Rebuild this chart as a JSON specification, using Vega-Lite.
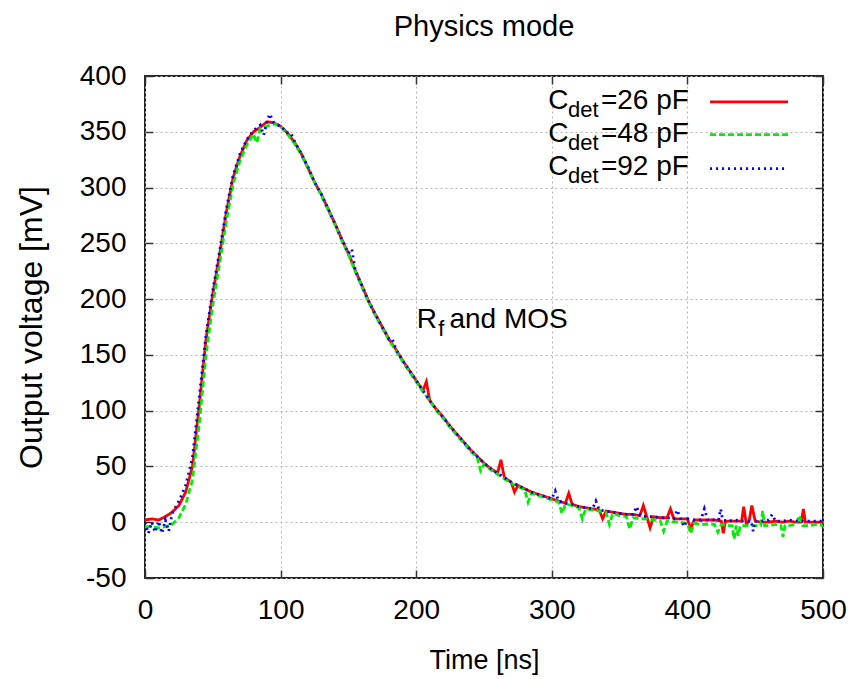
{
  "$schema": "https://vega.github.io/schema/vega-lite/v6.json",
  "width": 678,
  "height": 502,
  "autosize": {"type": "none"},
  "padding": {"left": 145, "top": 76, "right": 31, "bottom": 101},
  "background": "white",
  "config": {
    "font": "Liberation Sans",
    "view": {"stroke": "#222222", "strokeWidth": 2},
    "text": {"color": "black"},
    "axis": {
      "domain": false,
      "ticks": true,
      "tickSize": -8,
      "tickColor": "#333333",
      "tickWidth": 1.5,
      "labelFont": "Liberation Sans",
      "labelFontSize": 28,
      "labelColor": "black",
      "titleFont": "Liberation Sans",
      "titleFontWeight": "normal",
      "titleColor": "black",
      "gridColor": "#b4b4b4",
      "gridDash": [2, 3],
      "gridWidth": 1,
      "gridOpacity": 1
    }
  },
  "title": {"text": "Physics mode", "fontSize": 29, "font": "Liberation Sans", "fontWeight": "normal", "color": "black", "offset": 20},
  "data": {"values": [
    {"t":0,"v":2,"s":"26 pF"},{"t":5,"v":3,"s":"26 pF"},{"t":10,"v":2,"s":"26 pF"},{"t":15,"v":5,"s":"26 pF"},{"t":20,"v":9,"s":"26 pF"},{"t":25,"v":15,"s":"26 pF"},{"t":30,"v":27,"s":"26 pF"},{"t":35,"v":50,"s":"26 pF"},{"t":40,"v":104,"s":"26 pF"},{"t":45,"v":164,"s":"26 pF"},
    {"t":50,"v":205,"s":"26 pF"},{"t":55,"v":240,"s":"26 pF"},{"t":60,"v":278,"s":"26 pF"},{"t":65,"v":309,"s":"26 pF"},{"t":70,"v":328,"s":"26 pF"},{"t":75,"v":342,"s":"26 pF"},{"t":80,"v":350,"s":"26 pF"},{"t":85,"v":354,"s":"26 pF"},{"t":90,"v":359,"s":"26 pF"},{"t":95,"v":358,"s":"26 pF"},
    {"t":100,"v":355,"s":"26 pF"},{"t":105,"v":349,"s":"26 pF"},{"t":110,"v":341,"s":"26 pF"},{"t":115,"v":331,"s":"26 pF"},{"t":120,"v":318,"s":"26 pF"},{"t":125,"v":305,"s":"26 pF"},{"t":130,"v":294,"s":"26 pF"},{"t":135,"v":281,"s":"26 pF"},{"t":140,"v":268,"s":"26 pF"},{"t":145,"v":254,"s":"26 pF"},
    {"t":150,"v":241,"s":"26 pF"},{"t":155,"v":226,"s":"26 pF"},{"t":160,"v":212,"s":"26 pF"},{"t":165,"v":198,"s":"26 pF"},{"t":170,"v":186,"s":"26 pF"},{"t":175,"v":175,"s":"26 pF"},{"t":180,"v":164,"s":"26 pF"},{"t":185,"v":155,"s":"26 pF"},{"t":190,"v":145,"s":"26 pF"},{"t":195,"v":136,"s":"26 pF"},
    {"t":200,"v":127,"s":"26 pF"},{"t":205,"v":118,"s":"26 pF"},{"t":207.5,"v":126,"s":"26 pF"},{"t":210,"v":109,"s":"26 pF"},{"t":215,"v":101,"s":"26 pF"},{"t":220,"v":94,"s":"26 pF"},{"t":225,"v":86,"s":"26 pF"},{"t":230,"v":79,"s":"26 pF"},{"t":235,"v":72,"s":"26 pF"},{"t":240,"v":65,"s":"26 pF"},{"t":245,"v":59,"s":"26 pF"},
    {"t":250,"v":53,"s":"26 pF"},{"t":255,"v":48,"s":"26 pF"},{"t":260,"v":44,"s":"26 pF"},{"t":262.5,"v":56,"s":"26 pF"},{"t":265,"v":40,"s":"26 pF"},{"t":270,"v":36,"s":"26 pF"},{"t":272.5,"v":27,"s":"26 pF"},{"t":275,"v":33,"s":"26 pF"},{"t":280,"v":30,"s":"26 pF"},{"t":285,"v":27,"s":"26 pF"},{"t":290,"v":25,"s":"26 pF"},{"t":295,"v":23,"s":"26 pF"},
    {"t":300,"v":21,"s":"26 pF"},{"t":305,"v":19,"s":"26 pF"},{"t":310,"v":17,"s":"26 pF"},{"t":312.5,"v":26,"s":"26 pF"},{"t":315,"v":16,"s":"26 pF"},{"t":320,"v":14,"s":"26 pF"},{"t":325,"v":13,"s":"26 pF"},{"t":330,"v":12,"s":"26 pF"},{"t":335,"v":11,"s":"26 pF"},{"t":337.5,"v":3,"s":"26 pF"},{"t":340,"v":10,"s":"26 pF"},{"t":345,"v":9,"s":"26 pF"},
    {"t":350,"v":8,"s":"26 pF"},{"t":355,"v":7,"s":"26 pF"},{"t":360,"v":7,"s":"26 pF"},{"t":365,"v":6,"s":"26 pF"},{"t":367.5,"v":15,"s":"26 pF"},{"t":370,"v":5,"s":"26 pF"},{"t":372.5,"v":-5,"s":"26 pF"},{"t":375,"v":5,"s":"26 pF"},{"t":380,"v":4,"s":"26 pF"},{"t":385,"v":4,"s":"26 pF"},{"t":387.5,"v":12,"s":"26 pF"},{"t":390,"v":3,"s":"26 pF"},{"t":395,"v":3,"s":"26 pF"},
    {"t":400,"v":3,"s":"26 pF"},{"t":402.5,"v":-6,"s":"26 pF"},{"t":405,"v":2,"s":"26 pF"},{"t":410,"v":2,"s":"26 pF"},{"t":415,"v":2,"s":"26 pF"},{"t":420,"v":2,"s":"26 pF"},{"t":425,"v":1,"s":"26 pF"},{"t":426.5,"v":-10,"s":"26 pF"},{"t":428,"v":1,"s":"26 pF"},{"t":435,"v":1,"s":"26 pF"},{"t":440,"v":1,"s":"26 pF"},{"t":441.5,"v":14,"s":"26 pF"},{"t":443.5,"v":-2,"s":"26 pF"},{"t":445.5,"v":1,"s":"26 pF"},{"t":447.5,"v":15,"s":"26 pF"},
    {"t":450,"v":1,"s":"26 pF"},{"t":455,"v":0,"s":"26 pF"},{"t":460,"v":0,"s":"26 pF"},{"t":465,"v":1,"s":"26 pF"},{"t":470,"v":0,"s":"26 pF"},{"t":475,"v":1,"s":"26 pF"},{"t":480,"v":0,"s":"26 pF"},{"t":484,"v":0,"s":"26 pF"},{"t":485.5,"v":12,"s":"26 pF"},{"t":487,"v":0,"s":"26 pF"},{"t":490,"v":0,"s":"26 pF"},{"t":495,"v":0,"s":"26 pF"},{"t":500,"v":0,"s":"26 pF"},

    {"t":0,"v":-4,"s":"48 pF"},{"t":5,"v":-4,"s":"48 pF"},{"t":10,"v":-5,"s":"48 pF"},{"t":15,"v":-4,"s":"48 pF"},{"t":20,"v":-2,"s":"48 pF"},{"t":25,"v":4,"s":"48 pF"},{"t":30,"v":16,"s":"48 pF"},{"t":35,"v":38,"s":"48 pF"},{"t":40,"v":88,"s":"48 pF"},{"t":45,"v":150,"s":"48 pF"},
    {"t":50,"v":195,"s":"48 pF"},{"t":55,"v":232,"s":"48 pF"},{"t":60,"v":270,"s":"48 pF"},{"t":65,"v":303,"s":"48 pF"},{"t":70,"v":324,"s":"48 pF"},{"t":75,"v":338,"s":"48 pF"},{"t":80,"v":348,"s":"48 pF"},{"t":82.5,"v":340,"s":"48 pF"},{"t":85,"v":353,"s":"48 pF"},{"t":90,"v":355,"s":"48 pF"},{"t":95,"v":357,"s":"48 pF"},
    {"t":100,"v":355,"s":"48 pF"},{"t":105,"v":348,"s":"48 pF"},{"t":110,"v":340,"s":"48 pF"},{"t":115,"v":330,"s":"48 pF"},{"t":120,"v":318,"s":"48 pF"},{"t":125,"v":305,"s":"48 pF"},{"t":130,"v":293,"s":"48 pF"},{"t":135,"v":280,"s":"48 pF"},{"t":140,"v":267,"s":"48 pF"},{"t":145,"v":253,"s":"48 pF"},
    {"t":150,"v":240,"s":"48 pF"},{"t":155,"v":225,"s":"48 pF"},{"t":160,"v":211,"s":"48 pF"},{"t":165,"v":197,"s":"48 pF"},{"t":170,"v":185,"s":"48 pF"},{"t":175,"v":174,"s":"48 pF"},{"t":180,"v":163,"s":"48 pF"},{"t":185,"v":154,"s":"48 pF"},{"t":190,"v":144,"s":"48 pF"},{"t":195,"v":135,"s":"48 pF"},
    {"t":200,"v":126,"s":"48 pF"},{"t":205,"v":117,"s":"48 pF"},{"t":210,"v":109,"s":"48 pF"},{"t":215,"v":100,"s":"48 pF"},{"t":220,"v":93,"s":"48 pF"},{"t":225,"v":85,"s":"48 pF"},{"t":230,"v":78,"s":"48 pF"},{"t":235,"v":71,"s":"48 pF"},{"t":240,"v":64,"s":"48 pF"},{"t":245,"v":58,"s":"48 pF"},{"t":247.5,"v":46,"s":"48 pF"},
    {"t":250,"v":52,"s":"48 pF"},{"t":255,"v":47,"s":"48 pF"},{"t":260,"v":43,"s":"48 pF"},{"t":265,"v":39,"s":"48 pF"},{"t":270,"v":35,"s":"48 pF"},{"t":275,"v":32,"s":"48 pF"},{"t":280,"v":29,"s":"48 pF"},{"t":282.5,"v":18,"s":"48 pF"},{"t":285,"v":26,"s":"48 pF"},{"t":290,"v":24,"s":"48 pF"},{"t":295,"v":22,"s":"48 pF"},
    {"t":300,"v":20,"s":"48 pF"},{"t":305,"v":18,"s":"48 pF"},{"t":307.5,"v":8,"s":"48 pF"},{"t":310,"v":16,"s":"48 pF"},{"t":315,"v":15,"s":"48 pF"},{"t":320,"v":13,"s":"48 pF"},{"t":322.5,"v":3,"s":"48 pF"},{"t":325,"v":12,"s":"48 pF"},{"t":330,"v":11,"s":"48 pF"},{"t":335,"v":10,"s":"48 pF"},{"t":340,"v":9,"s":"48 pF"},{"t":342.5,"v":-2,"s":"48 pF"},{"t":345,"v":8,"s":"48 pF"},
    {"t":350,"v":6,"s":"48 pF"},{"t":355,"v":5,"s":"48 pF"},{"t":357.5,"v":-6,"s":"48 pF"},{"t":360,"v":4,"s":"48 pF"},{"t":365,"v":3,"s":"48 pF"},{"t":370,"v":3,"s":"48 pF"},{"t":375,"v":2,"s":"48 pF"},{"t":380,"v":1,"s":"48 pF"},{"t":382.5,"v":-8,"s":"48 pF"},{"t":385,"v":1,"s":"48 pF"},{"t":390,"v":0,"s":"48 pF"},{"t":395,"v":0,"s":"48 pF"},
    {"t":400,"v":-1,"s":"48 pF"},{"t":402.5,"v":-10,"s":"48 pF"},{"t":405,"v":-1,"s":"48 pF"},{"t":410,"v":-2,"s":"48 pF"},{"t":415,"v":-2,"s":"48 pF"},{"t":420,"v":-2,"s":"48 pF"},{"t":422.5,"v":-9,"s":"48 pF"},{"t":425,"v":-2,"s":"48 pF"},{"t":430,"v":-3,"s":"48 pF"},{"t":433,"v":-3,"s":"48 pF"},{"t":434.5,"v":-15,"s":"48 pF"},{"t":436,"v":-3,"s":"48 pF"},{"t":437.5,"v":-12,"s":"48 pF"},{"t":439,"v":-3,"s":"48 pF"},{"t":445,"v":-3,"s":"48 pF"},
    {"t":450,"v":-3,"s":"48 pF"},{"t":454,"v":-3,"s":"48 pF"},{"t":455.5,"v":10,"s":"48 pF"},{"t":457,"v":-3,"s":"48 pF"},{"t":460,"v":-3,"s":"48 pF"},{"t":465,"v":-2,"s":"48 pF"},{"t":469,"v":-3,"s":"48 pF"},{"t":470.5,"v":-13,"s":"48 pF"},{"t":472,"v":-3,"s":"48 pF"},{"t":475,"v":-3,"s":"48 pF"},{"t":480,"v":-2,"s":"48 pF"},{"t":482.5,"v":6,"s":"48 pF"},{"t":485,"v":-3,"s":"48 pF"},{"t":490,"v":-3,"s":"48 pF"},{"t":495,"v":-2,"s":"48 pF"},{"t":500,"v":-3,"s":"48 pF"},

    {"t":0,"v":0,"s":"92 pF"},{"t":2.5,"v":-10,"s":"92 pF"},{"t":5,"v":0,"s":"92 pF"},{"t":7.5,"v":-9,"s":"92 pF"},{"t":10,"v":1,"s":"92 pF"},{"t":12.5,"v":-10,"s":"92 pF"},{"t":15,"v":2,"s":"92 pF"},{"t":17.5,"v":-8,"s":"92 pF"},{"t":20,"v":8,"s":"92 pF"},{"t":25,"v":19,"s":"92 pF"},{"t":30,"v":33,"s":"92 pF"},{"t":35,"v":58,"s":"92 pF"},{"t":40,"v":112,"s":"92 pF"},{"t":45,"v":168,"s":"92 pF"},
    {"t":50,"v":208,"s":"92 pF"},{"t":55,"v":243,"s":"92 pF"},{"t":60,"v":281,"s":"92 pF"},{"t":65,"v":311,"s":"92 pF"},{"t":70,"v":330,"s":"92 pF"},{"t":75,"v":343,"s":"92 pF"},{"t":80,"v":351,"s":"92 pF"},{"t":85,"v":356,"s":"92 pF"},{"t":87.5,"v":347,"s":"92 pF"},{"t":90,"v":359,"s":"92 pF"},{"t":92,"v":366,"s":"92 pF"},{"t":95,"v":358,"s":"92 pF"},
    {"t":100,"v":355,"s":"92 pF"},{"t":105,"v":349,"s":"92 pF"},{"t":107.5,"v":349,"s":"92 pF"},{"t":110,"v":342,"s":"92 pF"},{"t":115,"v":331,"s":"92 pF"},{"t":120,"v":319,"s":"92 pF"},{"t":125,"v":305,"s":"92 pF"},{"t":130,"v":294,"s":"92 pF"},{"t":135,"v":281,"s":"92 pF"},{"t":140,"v":268,"s":"92 pF"},{"t":145,"v":254,"s":"92 pF"},
    {"t":150,"v":241,"s":"92 pF"},{"t":152.5,"v":245,"s":"92 pF"},{"t":155,"v":226,"s":"92 pF"},{"t":160,"v":212,"s":"92 pF"},{"t":165,"v":198,"s":"92 pF"},{"t":170,"v":186,"s":"92 pF"},{"t":175,"v":175,"s":"92 pF"},{"t":180,"v":164,"s":"92 pF"},{"t":182.5,"v":164,"s":"92 pF"},{"t":185,"v":155,"s":"92 pF"},{"t":190,"v":145,"s":"92 pF"},{"t":195,"v":136,"s":"92 pF"},
    {"t":200,"v":127,"s":"92 pF"},{"t":205,"v":118,"s":"92 pF"},{"t":210,"v":109,"s":"92 pF"},{"t":215,"v":101,"s":"92 pF"},{"t":220,"v":94,"s":"92 pF"},{"t":225,"v":86,"s":"92 pF"},{"t":230,"v":79,"s":"92 pF"},{"t":235,"v":72,"s":"92 pF"},{"t":240,"v":65,"s":"92 pF"},{"t":245,"v":59,"s":"92 pF"},
    {"t":250,"v":53,"s":"92 pF"},{"t":255,"v":48,"s":"92 pF"},{"t":260,"v":44,"s":"92 pF"},{"t":265,"v":40,"s":"92 pF"},{"t":270,"v":36,"s":"92 pF"},{"t":275,"v":33,"s":"92 pF"},{"t":280,"v":30,"s":"92 pF"},{"t":285,"v":27,"s":"92 pF"},{"t":290,"v":25,"s":"92 pF"},{"t":295,"v":23,"s":"92 pF"},
    {"t":300,"v":21,"s":"92 pF"},{"t":302.5,"v":28,"s":"92 pF"},{"t":305,"v":19,"s":"92 pF"},{"t":310,"v":17,"s":"92 pF"},{"t":315,"v":16,"s":"92 pF"},{"t":320,"v":14,"s":"92 pF"},{"t":325,"v":13,"s":"92 pF"},{"t":330,"v":12,"s":"92 pF"},{"t":332.5,"v":19,"s":"92 pF"},{"t":335,"v":11,"s":"92 pF"},{"t":340,"v":10,"s":"92 pF"},{"t":345,"v":9,"s":"92 pF"},
    {"t":350,"v":8,"s":"92 pF"},{"t":355,"v":7,"s":"92 pF"},{"t":360,"v":7,"s":"92 pF"},{"t":362.5,"v":14,"s":"92 pF"},{"t":365,"v":6,"s":"92 pF"},{"t":370,"v":5,"s":"92 pF"},{"t":375,"v":5,"s":"92 pF"},{"t":380,"v":4,"s":"92 pF"},{"t":385,"v":4,"s":"92 pF"},{"t":390,"v":3,"s":"92 pF"},{"t":392.5,"v":11,"s":"92 pF"},{"t":395,"v":3,"s":"92 pF"},{"t":397.5,"v":-4,"s":"92 pF"},
    {"t":400,"v":3,"s":"92 pF"},{"t":405,"v":2,"s":"92 pF"},{"t":410,"v":2,"s":"92 pF"},{"t":412.5,"v":12,"s":"92 pF"},{"t":415,"v":2,"s":"92 pF"},{"t":420,"v":2,"s":"92 pF"},{"t":423,"v":2,"s":"92 pF"},{"t":424.5,"v":12,"s":"92 pF"},{"t":426,"v":2,"s":"92 pF"},{"t":430,"v":1,"s":"92 pF"},{"t":435,"v":2,"s":"92 pF"},{"t":440,"v":1,"s":"92 pF"},{"t":447,"v":1,"s":"92 pF"},{"t":448.5,"v":-8,"s":"92 pF"},
    {"t":450,"v":1,"s":"92 pF"},{"t":455,"v":1,"s":"92 pF"},{"t":460,"v":2,"s":"92 pF"},{"t":462.5,"v":7,"s":"92 pF"},{"t":465,"v":1,"s":"92 pF"},{"t":470,"v":1,"s":"92 pF"},{"t":475,"v":2,"s":"92 pF"},{"t":480,"v":1,"s":"92 pF"},{"t":485,"v":1,"s":"92 pF"},{"t":490,"v":1,"s":"92 pF"},{"t":495,"v":1,"s":"92 pF"},{"t":500,"v":1,"s":"92 pF"}
  ]},
  "layer": [
    {
      "mark": {"type": "line", "strokeWidth": 2.8, "clip": true},
      "encoding": {
        "x": {"field": "t", "type": "quantitative", "scale": {"domain": [0, 500], "nice": false},
              "axis": {"orient": "bottom", "title": "Time [ns]", "titleFontSize": 27, "titlePadding": 23, "values": [0, 100, 200, 300, 400, 500], "labelPadding": 26, "grid": true, "labelFlush": false}},
        "y": {"field": "v", "type": "quantitative", "scale": {"domain": [-50, 400], "nice": false},
              "axis": {"orient": "left", "title": "Output voltage [mV]", "titleFontSize": 32, "titlePadding": 31, "values": [-50, 0, 50, 100, 150, 200, 250, 300, 350, 400], "labelExpr": "'' + datum.value", "labelPadding": 27, "grid": true, "labelFlush": false}},
        "color": {"field": "s", "type": "nominal", "scale": {"domain": ["26 pF", "48 pF", "92 pF"], "range": ["#ff0000", "#00ee00", "#0000ff"]}, "legend": null},
        "strokeDash": {"field": "s", "type": "nominal", "scale": {"domain": ["26 pF", "48 pF", "92 pF"], "range": [[1, 0], [6, 3], [2, 4]]}, "legend": null}
      }
    },
    {
      "mark": {"type": "point", "opacity": 0},
      "encoding": {
        "x": {"field": "t", "type": "quantitative", "axis": {"orient": "top", "title": null, "labels": false, "grid": false, "values": [0, 100, 200, 300, 400, 500]}},
        "y": {"field": "v", "type": "quantitative", "axis": {"orient": "right", "title": null, "labels": false, "grid": false, "values": [-50, 0, 50, 100, 150, 200, 250, 300, 350, 400]}}
      }
    },
    {"data": {"values": [{}]}, "mark": {"type": "rule", "color": "#ff0000", "strokeWidth": 2.8}, "encoding": {"x": {"datum": 416.7, "type": "quantitative", "axis": null}, "x2": {"datum": 474.2}, "y": {"datum": 376.8, "type": "quantitative", "axis": null}}},
    {"data": {"values": [{}]}, "mark": {"type": "rule", "color": "#00ee00", "strokeWidth": 2.8, "strokeDash": [6, 3]}, "encoding": {"x": {"datum": 416.7, "type": "quantitative", "axis": null}, "x2": {"datum": 474.2}, "y": {"datum": 347.5, "type": "quantitative", "axis": null}}},
    {"data": {"values": [{}]}, "mark": {"type": "rule", "color": "#0000ff", "strokeWidth": 2.8, "strokeDash": [2, 4]}, "encoding": {"x": {"datum": 416.7, "type": "quantitative", "axis": null}, "x2": {"datum": 474.2}, "y": {"datum": 317, "type": "quantitative", "axis": null}}},
    {"data": {"values": [{}]}, "mark": {"type": "text", "align": "left", "baseline": "alphabetic", "fontSize": 28, "font": "Liberation Sans", "color": "black"}, "encoding": {"x": {"datum": 297.3, "type": "quantitative", "axis": null}, "y": {"datum": 370.8, "type": "quantitative", "axis": null}, "text": {"value": "C"}}},
    {"data": {"values": [{}]}, "mark": {"type": "text", "align": "left", "baseline": "alphabetic", "fontSize": 22, "font": "Liberation Sans", "color": "black", "dy": 8}, "encoding": {"x": {"datum": 312.0, "type": "quantitative", "axis": null}, "y": {"datum": 370.8, "type": "quantitative", "axis": null}, "text": {"value": "det"}}},
    {"data": {"values": [{}]}, "mark": {"type": "text", "align": "left", "baseline": "alphabetic", "fontSize": 28, "font": "Liberation Sans", "color": "black"}, "encoding": {"x": {"datum": 336.2, "type": "quantitative", "axis": null}, "y": {"datum": 370.8, "type": "quantitative", "axis": null}, "text": {"value": "=26 pF"}}},
    {"data": {"values": [{}]}, "mark": {"type": "text", "align": "left", "baseline": "alphabetic", "fontSize": 28, "font": "Liberation Sans", "color": "black"}, "encoding": {"x": {"datum": 297.3, "type": "quantitative", "axis": null}, "y": {"datum": 341.0, "type": "quantitative", "axis": null}, "text": {"value": "C"}}},
    {"data": {"values": [{}]}, "mark": {"type": "text", "align": "left", "baseline": "alphabetic", "fontSize": 22, "font": "Liberation Sans", "color": "black", "dy": 8}, "encoding": {"x": {"datum": 312.0, "type": "quantitative", "axis": null}, "y": {"datum": 341.0, "type": "quantitative", "axis": null}, "text": {"value": "det"}}},
    {"data": {"values": [{}]}, "mark": {"type": "text", "align": "left", "baseline": "alphabetic", "fontSize": 28, "font": "Liberation Sans", "color": "black"}, "encoding": {"x": {"datum": 336.2, "type": "quantitative", "axis": null}, "y": {"datum": 341.0, "type": "quantitative", "axis": null}, "text": {"value": "=48 pF"}}},
    {"data": {"values": [{}]}, "mark": {"type": "text", "align": "left", "baseline": "alphabetic", "fontSize": 28, "font": "Liberation Sans", "color": "black"}, "encoding": {"x": {"datum": 297.3, "type": "quantitative", "axis": null}, "y": {"datum": 311.0, "type": "quantitative", "axis": null}, "text": {"value": "C"}}},
    {"data": {"values": [{}]}, "mark": {"type": "text", "align": "left", "baseline": "alphabetic", "fontSize": 22, "font": "Liberation Sans", "color": "black", "dy": 8}, "encoding": {"x": {"datum": 312.0, "type": "quantitative", "axis": null}, "y": {"datum": 311.0, "type": "quantitative", "axis": null}, "text": {"value": "det"}}},
    {"data": {"values": [{}]}, "mark": {"type": "text", "align": "left", "baseline": "alphabetic", "fontSize": 28, "font": "Liberation Sans", "color": "black"}, "encoding": {"x": {"datum": 336.2, "type": "quantitative", "axis": null}, "y": {"datum": 311.0, "type": "quantitative", "axis": null}, "text": {"value": "=92 pF"}}},
    {"data": {"values": [{}]}, "mark": {"type": "text", "align": "left", "baseline": "alphabetic", "fontSize": 28, "font": "Liberation Sans", "color": "black"}, "encoding": {"x": {"datum": 200.4, "type": "quantitative", "axis": null}, "y": {"datum": 174.5, "type": "quantitative", "axis": null}, "text": {"value": "R"}}},
    {"data": {"values": [{}]}, "mark": {"type": "text", "align": "left", "baseline": "alphabetic", "fontSize": 22, "font": "Liberation Sans", "color": "black", "dy": 8}, "encoding": {"x": {"datum": 216.3, "type": "quantitative", "axis": null}, "y": {"datum": 174.5, "type": "quantitative", "axis": null}, "text": {"value": "f"}}},
    {"data": {"values": [{}]}, "mark": {"type": "text", "align": "left", "baseline": "alphabetic", "fontSize": 28, "font": "Liberation Sans", "color": "black"}, "encoding": {"x": {"datum": 224.5, "type": "quantitative", "axis": null}, "y": {"datum": 174.5, "type": "quantitative", "axis": null}, "text": {"value": "and MOS"}}}
  ],
  "resolve": {"axis": {"x": "independent", "y": "independent"}}
}
